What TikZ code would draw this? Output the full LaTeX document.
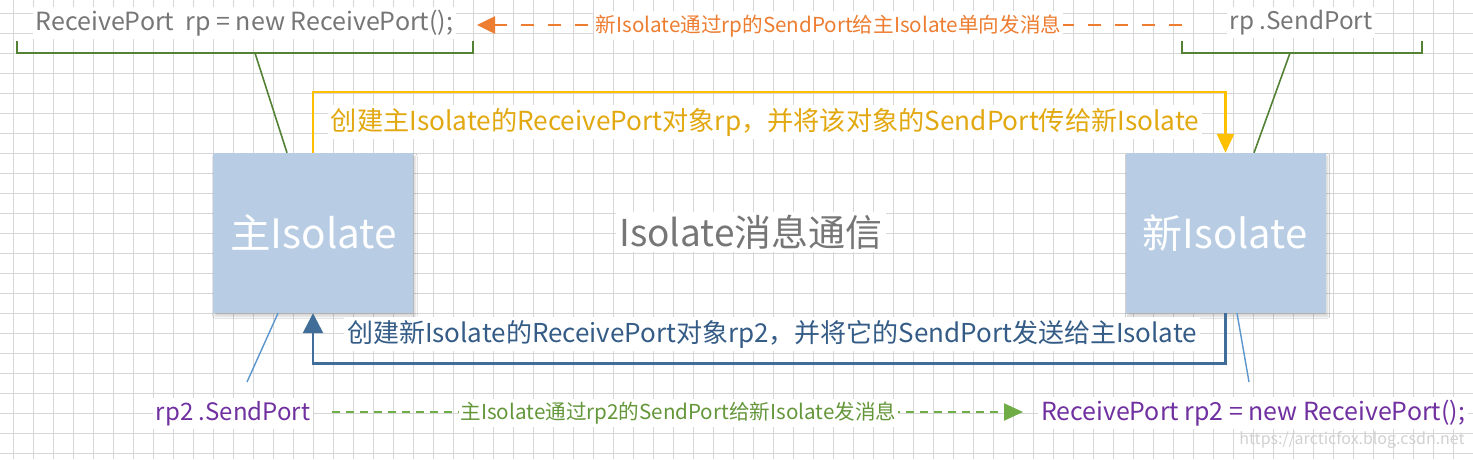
\documentclass[tikz,border=0pt]{standalone}
\usepackage{fontspec}
\setmainfont{Noto Sans CJK SC}
\usetikzlibrary{arrows.meta,shadows.blur}
\definecolor{gridc}{RGB}{214,214,214}
\definecolor{boxfill}{RGB}{184,204,228}
\definecolor{graytxt}{RGB}{118,118,118}
\definecolor{brgreen}{RGB}{84,130,53}
\definecolor{orangec}{RGB}{237,125,49}
\definecolor{yline}{RGB}{255,192,0}
\definecolor{ytxt}{RGB}{226,168,16}
\definecolor{bline}{RGB}{65,110,152}
\definecolor{btxt}{RGB}{52,92,134}
\definecolor{thinblue}{RGB}{91,150,205}
\definecolor{purplec}{RGB}{112,48,160}
\definecolor{gline}{RGB}{112,173,71}
\definecolor{gtxt}{RGB}{100,150,58}
\newcommand{\fs}[1]{\fontsize{#1}{#1}\selectfont}
\begin{document}
\begin{tikzpicture}[x=1pt,y=-1pt,
  gridline/.style={draw=gridc,line width=0.9pt},
  isobox/.style={fill=boxfill,minimum width=200pt,minimum height=160pt,inner sep=0pt,
     blur shadow={shadow xshift=2pt,shadow yshift=-3pt,shadow opacity=18,shadow blur steps=6}},
  boxtxt/.style={anchor=base,text=white,font=\fs{40.5},inner sep=0pt},
  lbl/.style={fill=white,inner xsep=3pt,inner ysep=3pt,anchor=base},
  bracket/.style={draw=brgreen,line width=1.8pt},
  thin/.style={draw=thinblue,line width=1.4pt},
]
\useasboundingbox (0,0) rectangle (1473,459);
\fill[white] (0,0) rectangle (1473,459);
\foreach \i in {0,...,73} \draw[gridline] ({13+20*\i},0) -- ({13+20*\i},459);
\foreach \j in {0,...,22} \draw[gridline] (0,{13+20*\j}) -- (1473,{13+20*\j});

% boxes
\node[isobox] (mainiso) at (313,233) {};
\node[isobox] (newiso) at (1225.5,233) {};
\node[boxtxt] (maintxt) at (313.5,248) {主Isolate};
\node[boxtxt,font=\fs{40}] (newtxt) at (1225,248) {新Isolate};

% centre title
\node[lbl,text=graytxt,font=\fs{37}] (title) at (751,246) {Isolate消息通信};

% top texts
\node[lbl,text=graytxt,font=\fs{25}] (rprecv) at (244.5,30) {ReceivePort\ \ rp = new ReceivePort();};
\node[lbl,text=graytxt,font=\fs{24.3}] (rpsend) at (1301,29) {rp .SendPort};

% brackets
\coordinate (lb1) at (17,41); \coordinate (lb2) at (17,53);
\coordinate (lb3) at (473,53); \coordinate (lb4) at (473,41);
\coordinate (lbm) at (255,53);
\draw[bracket] (lb1) -- (lb2) -- (lb3) -- (lb4);
\draw[bracket,line width=1.6pt] (lbm) -- ([xshift=-26pt]mainiso.north);
\coordinate (rb1) at (1182,41); \coordinate (rb2) at (1182,53);
\coordinate (rb3) at (1422,53); \coordinate (rb4) at (1422,41);
\coordinate (rbm) at (1290,53);
\draw[bracket] (rb1) -- (rb2) -- (rb3) -- (rb4);
\draw[bracket,line width=1.6pt] (rbm) -- ([xshift=28.5pt]newiso.north);

% orange dashed arrow
\coordinate (oend) at (1182,25);
\coordinate (otip) at (477,25);
\draw[draw=orangec,line width=2.6pt,dash pattern=on 13pt off 14pt,
  -{Triangle[width=17pt,length=18pt,fill=orangec]}] (oend) -- (otip);
\node[lbl,text=orangec,font=\fs{20.6},inner xsep=1.5pt] (otxt) at (828.5,32) {新Isolate通过rp的SendPort给主Isolate单向发消息};

% yellow arrow
\draw[draw=yline,line width=2.6pt,-{Triangle[width=17pt,length=19pt]}]
  (mainiso.north) -- ++(0,-61) -| (newiso.north);
\node[lbl,text=ytxt,font=\fs{26.2}] (ytext) at (765,130) {创建主Isolate的ReceivePort对象rp，并将该对象的SendPort传给新Isolate};

% blue arrow
\draw[draw=bline,line width=2.6pt,-{Triangle[width=20pt,length=20pt]}]
  (newiso.south) -- ++(0,50) -| (mainiso.south);
\node[lbl,text=btxt,font=\fs{26}] (btext) at (772,342) {创建新Isolate的ReceivePort对象rp2，并将它的SendPort发送给主Isolate};

% thin callouts
\coordinate (lcall) at (247,382);
\coordinate (rcall) at (1249,382);
\draw[thin] ([xshift=-35pt]mainiso.south) -- (lcall);
\draw[thin] ([xshift=11.5pt]newiso.south) -- (rcall);

% bottom texts
\node[lbl,text=purplec,font=\fs{24}] (rp2send) at (233,420) {rp2 .SendPort};
\node[lbl,text=purplec,font=\fs{24.9}] (rp2recv) at (1253,420) {ReceivePort rp2 = new ReceivePort();};
\draw[draw=gline,line width=2.2pt,dash pattern=on 8pt off 6pt,
  -{Triangle[width=17pt,length=19pt,fill=gline]}] (332,412) coordinate (gstart) -- (1023,412) coordinate (gtip);
\node[lbl,text=gtxt,font=\fs{20.6},inner xsep=1.5pt] (gtext) at (678.5,419.5) {主Isolate通过rp2的SendPort给新Isolate发消息};

% watermark
\node[anchor=base,text=black!18,font=\fs{16},inner sep=0pt] (wm) at (1352,444) {https://arcticfox.blog.csdn.net};
\end{tikzpicture}
\end{document}
